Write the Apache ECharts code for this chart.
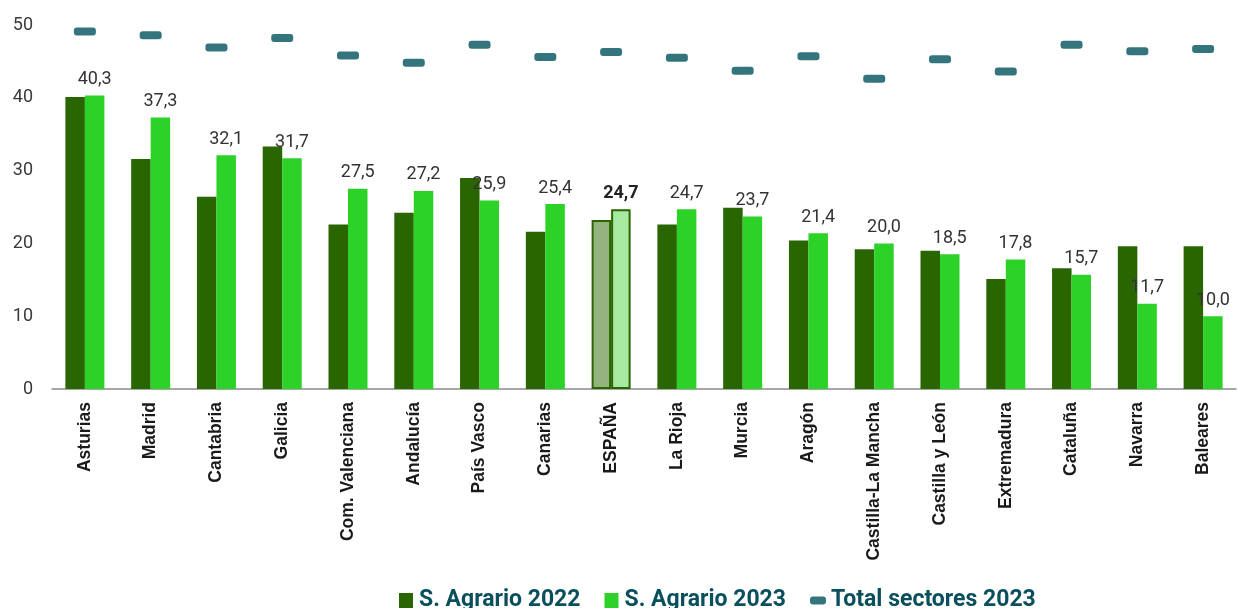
<!DOCTYPE html>
<html>
<head>
<meta charset="utf-8">
<script src="https://cdn.jsdelivr.net/npm/echarts@6/dist/echarts.min.js"></script>
<style>html,body{margin:0;padding:0;background:#fff;}#c{width:1239px;height:608px;}</style>
</head>
<body>
<div id="c"></div>
<script>
const categories = ['Asturias','Madrid','Cantabria','Galicia','Com. Valenciana','Andalucía','País Vasco','Canarias','ESPAÑA','La Rioja','Murcia','Aragón','Castilla-La Mancha','Castilla y León','Extremadura','Cataluña','Navarra','Baleares'];
const agrario2022 = [40.1,31.6,26.4,33.3,22.6,24.2,29.0,21.6,23.2,22.6,24.9,20.4,19.2,19.0,15.1,16.6,19.6,19.6];
const agrario2023 = [40.3,37.3,32.1,31.7,27.5,27.2,25.9,25.4,24.7,24.7,23.7,21.4,20.0,18.5,17.8,15.7,11.7,10.0];
const total2023 = [49.1,48.6,46.9,48.2,45.8,44.8,47.3,45.6,46.3,45.5,43.7,45.7,42.6,45.3,43.6,47.3,46.4,46.7];
const yTicks = [0,10,20,30,40,50];

const HIGHLIGHT = 'ESPAÑA';
const dark = '#296600', light = '#2dd229', teal = '#00515d';
const pill = 'path://M3,0H19A3,3 0 0 1 22,3V5A3,3 0 0 1 19,8H3A3,3 0 0 1 0,5V3A3,3 0 0 1 3,0Z';
const pillLegend = 'path://M3,0H13A3,3 0 0 1 16,3V5A3,3 0 0 1 13,8H3A3,3 0 0 1 0,5V3A3,3 0 0 1 3,0Z';
const rectLegend = 'path://M0,0H14V15H0Z';

const d22 = agrario2022.map((v,i)=> categories[i]===HIGHLIGHT ?
  {value:v, itemStyle:{color:'#94b37f', borderColor:dark, borderWidth:2}} : v);
const d23 = agrario2023.map((v,i)=> categories[i]===HIGHLIGHT ?
  {value:v, itemStyle:{color:'#a6e9a0', borderColor:dark, borderWidth:2},
   label:{fontWeight:'bold', color:'#222'}} : v);

const chart = echarts.init(document.getElementById('c'));
chart.setOption({
  animation:false,
  grid:{left:52, right:3, top:25, bottom:219, containLabel:false},
  legend:{
    top:584, left:394, itemWidth:16, itemHeight:15, itemGap:24, symbolKeepAspect:true,
    textStyle:{fontFamily:'Roboto', fontWeight:'bold', fontSize:23, color:'#0a4f5c'},
    data:[{name:'S. Agrario 2022', icon:rectLegend},{name:'S. Agrario 2023', icon:rectLegend},{name:'Total sectores 2023', icon:pillLegend}]
  },
  xAxis:{
    type:'category', data:categories,
    axisLine:{lineStyle:{color:'#8a8a8a', width:1.5}},
    axisTick:{show:false},
    axisLabel:{rotate:90, interval:0, margin:13, fontFamily:'Liberation Sans', fontWeight:'bold', fontSize:17.5, color:'#1a1a1a'}
  },
  yAxis:{
    type:'value', min:yTicks[0], max:yTicks[yTicks.length-1], interval:10,
    splitLine:{show:false}, axisLine:{show:false}, axisTick:{show:false},
    axisLabel:{margin:19, fontFamily:'Roboto', fontSize:18, color:'#3a3a3a'}
  },
  series:[
    {name:'S. Agrario 2022', type:'bar', data:d22, barWidth:19.5, barGap:'0%', itemStyle:{color:dark}},
    {name:'S. Agrario 2023', type:'bar', data:d23, barWidth:19.5, itemStyle:{color:light},
     label:{show:true, position:'top', distance:7, fontFamily:'Roboto', fontSize:18, color:'#333',
       formatter:p=>p.value.toFixed(1).replace('.',',')}},
    {name:'Total sectores 2023', type:'scatter', data:total2023, symbol:pill, symbolSize:[22,8], itemStyle:{color:teal}, z:5}
  ]
});
</script>
</body>
</html>
